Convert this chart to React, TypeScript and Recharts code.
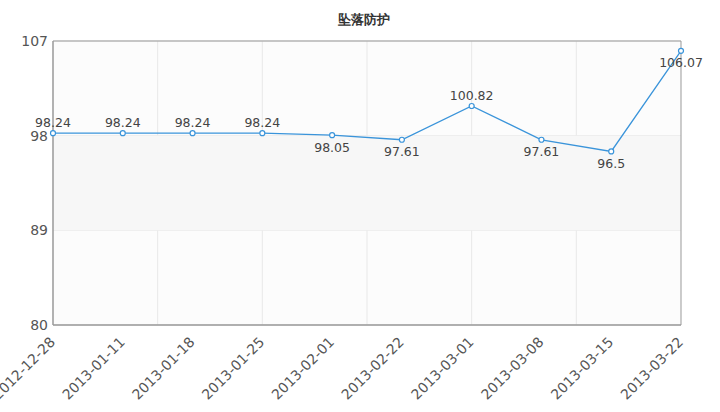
import {
  CartesianGrid,
  LabelList,
  Line,
  LineChart,
  ReferenceArea,
  XAxis,
  YAxis,
} from "recharts";

const dates = [
  "2012-12-28",
  "2013-01-11",
  "2013-01-18",
  "2013-01-25",
  "2013-02-01",
  "2013-02-22",
  "2013-03-01",
  "2013-03-08",
  "2013-03-15",
  "2013-03-22",
];
const scores = [98.24, 98.24, 98.24, 98.24, 98.05, 97.61, 100.82, 97.61, 96.5, 106.07];
const yTicks = [80, 89, 98, 107];
const title = "坠落防护";

const chartData = dates.map((date, i) => ({ date, score: scores[i] }));

const FONT = "'DejaVu Sans', Verdana, sans-serif";
const LINE = "#3a94da";

const DateTick = (props: any) => {
  const { x, y, payload } = props;
  const ax = x + 3;
  const ay = y + 10;
  return (
    <text
      x={ax}
      y={ay}
      transform={`rotate(-45, ${ax}, ${ay})`}
      textAnchor="end"
      fontSize={14}
      fontFamily={FONT}
      fill="#555"
    >
      {payload.value}
    </text>
  );
};

const ValueLabel = (props: any) => {
  const { x, y, value, index } = props;
  const prev = index > 0 ? scores[index - 1] : value;
  let above = value >= prev;
  if (y - 16 < 41) above = false;
  return (
    <text
      x={x}
      y={above ? y - 6 : y + 16.5}
      textAnchor="middle"
      fontSize={12.5}
      fontFamily={FONT}
      fill="#444"
    >
      {value}
    </text>
  );
};

export default function App() {
  return (
    <div style={{ position: "absolute", left: 0, top: 0, width: 720, height: 412, background: "#fff" }}>
      <div
        style={{
          position: "absolute",
          left: 0,
          top: 11,
          width: 728,
          textAlign: "center",
          fontFamily: FONT,
          fontWeight: "bold",
          fontSize: 13,
          color: "#333",
        }}
      >
        {title}
      </div>
      <LineChart
        width={720}
        height={412}
        data={chartData}
        margin={{ top: 41, right: 39, left: 0, bottom: 0 }}
      >
        <CartesianGrid
          fill="#fcfcfc"
          stroke="#e8e8e8"
          verticalCoordinatesGenerator={({ offset }: any) =>
            [1, 2, 3, 4, 5].map((i) => offset.left + (offset.width * i) / 6)
          }
        />
        <ReferenceArea y1={89} y2={98} fill="#f7f7f7" fillOpacity={1} stroke="none" />
        <ReferenceArea
          x1={dates[0]}
          x2={dates[dates.length - 1]}
          y1={80}
          y2={107}
          fill="none"
          stroke="#999"
          strokeWidth={1}
        />
        <XAxis
          dataKey="date"
          height={87}
          interval={0}
          tickLine={false}
          axisLine={{ stroke: "#999" }}
          tick={<DateTick />}
        />
        <YAxis
          width={53}
          domain={[80, 107]}
          ticks={yTicks}
          tickLine={false}
          tickSize={5}
          tickMargin={0}
          axisLine={{ stroke: "#999" }}
          tick={{ fill: "#555", fontSize: 14, fontFamily: FONT }}
        />
        <Line
          type="linear"
          dataKey="score"
          stroke={LINE}
          strokeWidth={1.3}
          dot={{ r: 2.5, fill: "#fff", stroke: LINE, strokeWidth: 1.2 }}
          isAnimationActive={false}
        >
          <LabelList dataKey="score" content={<ValueLabel />} />
        </Line>
      </LineChart>
    </div>
  );
}
